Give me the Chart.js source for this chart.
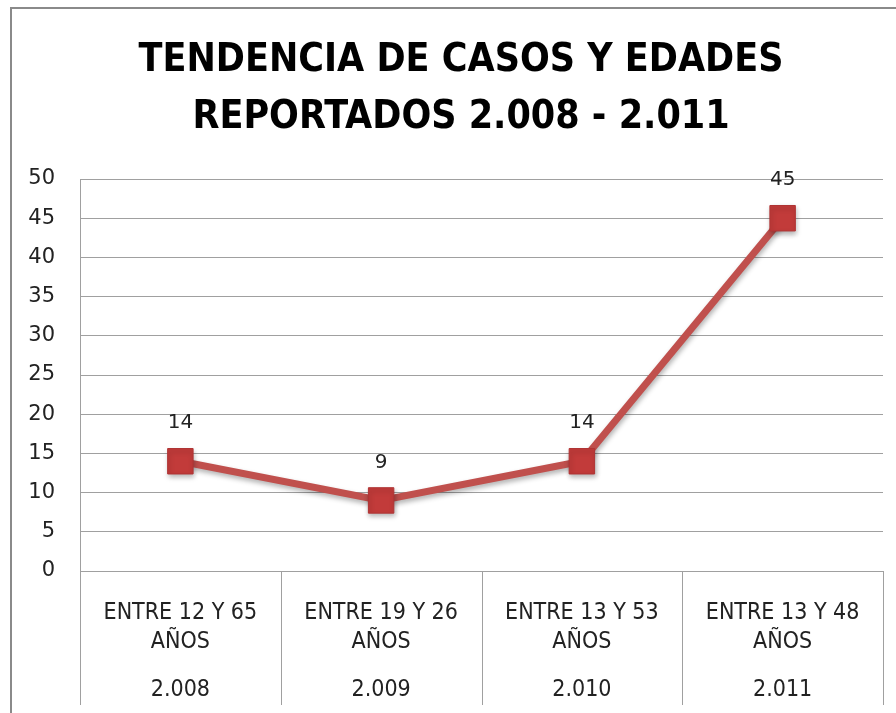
<!DOCTYPE html>
<html lang="es">
<head>
<meta charset="UTF-8">
<title>Tendencia de casos y edades</title>
<script src="https://cdn.jsdelivr.net/npm/chart.js"></script>
<style>
  html, body { margin: 0; padding: 0; background: #fff; overflow: hidden; }
  #frame { position: absolute; left: 10px; top: 7px; width: 898px; height: 711px; border: 2px solid #8a8a8a; }
  canvas { display: block; }
</style>
</head>
<body>
<div id="frame"><canvas id="casosChart" width="898" height="711"></canvas></div>
<script>
// datos del grafico
const rangos = [
  ['ENTRE 12 Y 65', 'AÑOS'],
  ['ENTRE 19 Y 26', 'AÑOS'],
  ['ENTRE 13 Y 53', 'AÑOS'],
  ['ENTRE 13 Y 48', 'AÑOS']
];
const anios = ['2.008', '2.009', '2.010', '2.011'];
const casos = [14, 9, 14, 45];
const yMin = 0, yMax = 50, yPaso = 5;

const gris = '#a0a0a0';
const rojo = '#C0504D';
const fuenteCond = '"DejaVu Sans Condensed", "Liberation Sans Narrow", Lato, sans-serif';
const fuenteNum = '"DejaVu Sans", sans-serif';

// valores encima de cada punto
const etiquetas = {
  id: 'etiquetas',
  afterDatasetsDraw(chart) {
    const ctx = chart.ctx;
    const meta = chart.getDatasetMeta(0);
    ctx.save();
    ctx.font = '20px ' + fuenteNum;
    ctx.fillStyle = '#222';
    ctx.textAlign = 'center';
    ctx.textBaseline = 'middle';
    meta.data.forEach((pt, i) => {
      ctx.fillText(String(casos[i]), pt.x, pt.y - 38);
    });
    ctx.restore();
  }
};

// lineas divisorias entre categorias bajo el eje
const divisores = {
  id: 'divisores',
  afterDraw(chart) {
    const xs = chart.scales.x;
    const ctx = chart.ctx;
    const n = rangos.length;
    const y0 = chart.chartArea.bottom;
    ctx.save();
    ctx.strokeStyle = gris;
    ctx.lineWidth = 1;
    for (let i = 0; i <= n; i++) {
      const x = Math.round(xs.left + i * xs.width / n) + 0.5;
      ctx.beginPath();
      ctx.moveTo(x, y0);
      ctx.lineTo(x, y0 + 134);
      ctx.stroke();
    }
    ctx.restore();
  }
};

// sombra suave para la serie
const sombra = {
  id: 'sombra',
  beforeDatasetsDraw(chart) {
    const ctx = chart.ctx;
    ctx.save();
    ctx.shadowColor = 'rgba(0,0,0,0.3)';
    ctx.shadowBlur = 5;
    ctx.shadowOffsetX = 1;
    ctx.shadowOffsetY = 3;
  },
  afterDatasetsDraw(chart) {
    chart.ctx.restore();
  }
};

const ctx = document.getElementById('casosChart').getContext('2d');
new Chart(ctx, {
  type: 'line',
  data: {
    labels: rangos,
    datasets: [{
      data: casos,
      xAxisID: 'x',
      yAxisID: 'y',
      borderColor: rojo,
      borderWidth: 7,
      tension: 0,
      pointStyle: 'rect',
      pointRadius: 18,
      pointHoverRadius: 18,
      pointBackgroundColor: '#C23B3A',
      pointBorderColor: '#B03434',
      pointBorderWidth: 1
    }]
  },
  options: {
    responsive: false,
    animation: false,
    layout: { padding: { left: 0, right: 0, top: 0, bottom: 12 } },
    plugins: {
      legend: { display: false },
      tooltip: { enabled: false },
      title: {
        display: true,
        text: ['TENDENCIA DE CASOS Y EDADES', 'REPORTADOS 2.008 - 2.011'],
        color: '#000',
        font: { family: fuenteCond, size: 39, weight: 'bold', lineHeight: 1.449 },
        padding: { top: 24, bottom: 33 }
      }
    },
    scales: {
      x: {
        type: 'category',
        position: 'bottom',
        offset: true,
        afterFit(scale) { scale.height = 87; },
        grid: { display: false, drawTicks: false },
        border: { display: false },
        ticks: {
          color: '#222',
          padding: 28,
          maxRotation: 0,
          autoSkip: false,
          font: { family: fuenteCond, size: 23, lineHeight: 1.26 }
        }
      },
      x2: {
        type: 'category',
        position: 'bottom',
        labels: anios,
        offset: true,
        afterFit(scale) { scale.height = 50; },
        grid: { display: false, drawTicks: false },
        border: { display: false },
        ticks: {
          color: '#222',
          padding: 18,
          maxRotation: 0,
          autoSkip: false,
          font: { family: fuenteCond, size: 23, lineHeight: 1.26 }
        }
      },
      y: {
        min: yMin,
        max: yMax,
        afterFit(scale) { scale.width = 68; },
        grid: { color: gris, lineWidth: 1, drawTicks: false },
        border: { display: true, color: gris, width: 1 },
        ticks: {
          stepSize: yPaso,
          color: '#222',
          padding: 25,
          font: { family: fuenteNum, size: 21 }
        }
      },
      // eje vacio a la derecha: solo reserva el margen del area de trazado
      yDer: {
        position: 'right',
        min: yMin,
        max: yMax,
        afterFit(scale) { scale.width = 27; },
        grid: { display: false, drawOnChartArea: false, drawTicks: false },
        border: { display: false },
        ticks: { display: false }
      }
    }
  },
  plugins: [sombra, etiquetas, divisores]
});
</script>
</body>
</html>
